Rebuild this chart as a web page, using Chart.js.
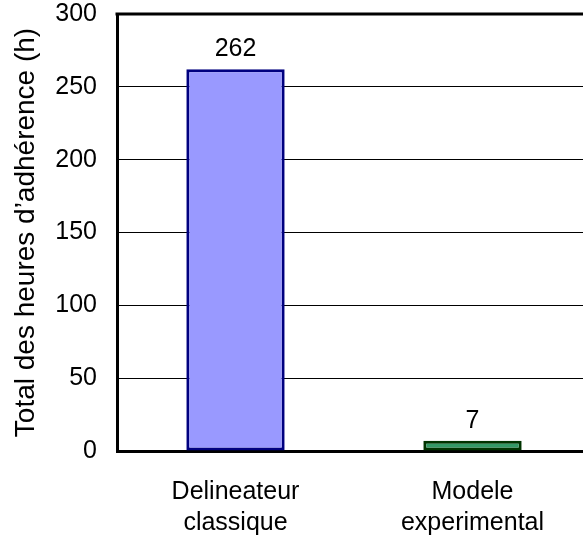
<!DOCTYPE html>
<html>
<head>
<meta charset="utf-8">
<script src="https://cdn.jsdelivr.net/npm/chart.js@4/dist/chart.umd.min.js"></script>
<style>
  html, body { margin: 0; padding: 0; overflow: hidden; background: #fff; }
  #wrap { position: relative; width: 600px; height: 538px; }
</style>
</head>
<body>
<div id="wrap"><canvas id="c" width="600" height="538"></canvas></div>
<script>
// Categories and values
const categories = [["Delineateur", "classique"], ["Modele", "experimental"]];
const hours = [262, 7];
const barFill = ["#9999FF", "#339966"];
const barEdge = ["#000080", "#003300"];
const yTitle = "Total des heures d\u2019adh\u00e9rence (h)";

const FONT = "'Liberation Sans', Arial, sans-serif";

// Value labels above each bar, positioned from the bar elements
const valueLabels = {
  id: 'valueLabels',
  afterDatasetsDraw(chart) {
    const ctx = chart.ctx;
    const meta = chart.getDatasetMeta(0);
    ctx.save();
    ctx.font = "25px " + FONT;
    ctx.fillStyle = "#000";
    ctx.textAlign = "center";
    ctx.textBaseline = "alphabetic";
    meta.data.forEach((bar, i) => {
      ctx.fillText(String(hours[i]), bar.x, bar.y - 13);
    });
    ctx.restore();
  }
};

// Heavy frame line along the top of the plot area
const frameTop = {
  id: 'frameTop',
  afterDraw(chart) {
    const a = chart.chartArea;
    const ctx = chart.ctx;
    ctx.save();
    ctx.strokeStyle = "#000";
    ctx.lineWidth = 3;
    ctx.beginPath();
    ctx.moveTo(a.left - 1.5, a.top);
    ctx.lineTo(a.right, a.top);
    ctx.stroke();
    ctx.restore();
  }
};

new Chart(document.getElementById('c'), {
  type: 'bar',
  data: {
    labels: categories,
    datasets: [{
      data: hours,
      backgroundColor: barFill,
      borderColor: barEdge,
      borderWidth: 3,
      borderSkipped: false,
      barPercentage: 0.83,
      categoryPercentage: 0.5
    }]
  },
  options: {
    responsive: false,
    animation: false,
    layout: { padding: { top: 14, left: 0, right: 9, bottom: 0 } },
    plugins: {
      legend: { display: false },
      tooltip: { enabled: false }
    },
    scales: {
      x: {
        grid: { display: false },
        border: { display: true, color: "#000", width: 3 },
        ticks: {
          color: "#000",
          font: { family: FONT, size: 25, lineHeight: 1.24 },
          padding: 18,
          maxRotation: 0
        },
        afterFit(s) { s.height = 87; }
      },
      y: {
        min: 0,
        max: 300,
        ticks: {
          stepSize: 50,
          color: "#000",
          font: { family: FONT, size: 25 },
          padding: 20
        },
        grid: { color: "#000", lineWidth: 1, drawTicks: false },
        border: { display: true, color: "#000", width: 3 },
        title: {
          display: true,
          text: yTitle,
          color: "#000",
          font: { family: FONT, size: 28 },
          padding: { top: 9, bottom: 4 }
        },
        afterFit(s) {
          s.width = 117;
          s.paddingTop = 0;
          s.paddingBottom = 0;
        }
      }
    }
  },
  plugins: [valueLabels, frameTop]
});
</script>
</body>
</html>
